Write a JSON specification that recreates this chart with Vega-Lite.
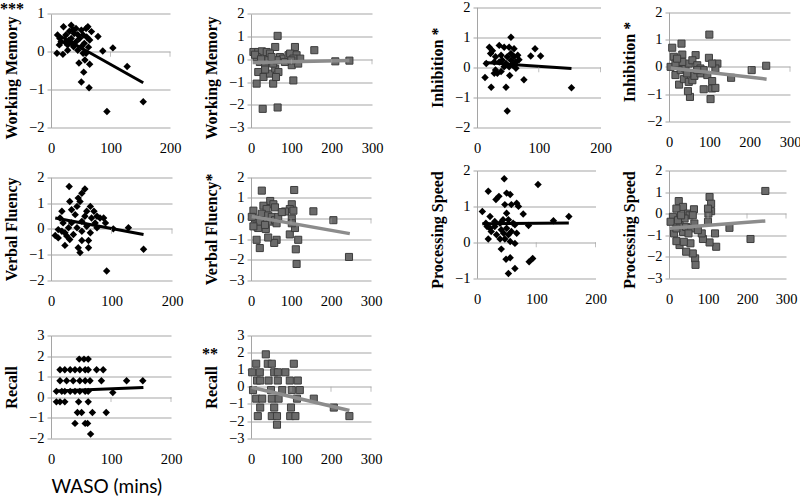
{
"$schema": "https://vega.github.io/schema/vega-lite/v6.json",
"background": "white",
"padding": {"left": 0, "top": -1.5, "right": 0, "bottom": 0},
"columns": 4, "bounds": "flush", "align": "each", "spacing": 0,
"config": {
 "view": {"stroke": null},
 "axis": {"labelFont": "Liberation Serif", "labelFontSize": 14.5, "labelColor": "#000", "titleFont": "Liberation Serif", "titleFontSize": 16, "titleFontWeight": "bold", "titleColor": "#000", "gridColor": "#a5a5a5", "domainColor": "#a5a5a5", "tickColor": "#a5a5a5", "labelOverlap": false, "labelFlush": false, "labelBound": false},
 "axisX": {"domain": false, "ticks": false, "grid": false, "labelPadding": 14, "labelFont": "Liberation Serif", "labelFontSize": 14.5},
 "axisY": {"domain": true, "ticks": true, "tickSize": 4, "grid": true, "labelPadding": 3, "titlePadding": 9, "labelFont": "Liberation Serif", "labelFontSize": 14.5}
},
"datasets": {
"pts": [
{"p":1,"x":94,"y":-1.58},{"p":1,"x":155,"y":-1.32},{"p":1,"x":128,"y":-0.39},{"p":1,"x":104,"y":0.1},{"p":1,"x":87,"y":0.02},{"p":1,"x":79,"y":0.4},{"p":1,"x":64,"y":-0.95},{"p":1,"x":51,"y":-0.8},{"p":1,"x":55,"y":-0.54},{"p":1,"x":65,"y":-0.33},{"p":1,"x":47,"y":-0.3},{"p":1,"x":57,"y":-0.22},{"p":1,"x":10,"y":-0.04},{"p":1,"x":20,"y":-0.07},{"p":1,"x":21,"y":0.66},{"p":1,"x":34,"y":0.7},{"p":1,"x":11,"y":0.44},{"p":1,"x":17,"y":0.26},{"p":1,"x":25,"y":0.44},{"p":1,"x":28,"y":0.18},{"p":1,"x":34,"y":0.35},{"p":1,"x":39,"y":0.48},{"p":1,"x":42,"y":0.26},{"p":1,"x":48,"y":0.35},{"p":1,"x":54,"y":0.44},{"p":1,"x":59,"y":0.61},{"p":1,"x":62,"y":0.66},{"p":1,"x":68,"y":0.53},{"p":1,"x":51,"y":0.13},{"p":1,"x":45,"y":0.04},{"p":1,"x":56,"y":0.22},{"p":1,"x":38,"y":0.13},{"p":1,"x":31,"y":0.54},{"p":1,"x":24,"y":0.25},{"p":1,"x":14,"y":0.18},{"p":1,"x":51,"y":0.57},{"p":1,"x":60,"y":0.39},{"p":1,"x":65,"y":0.31},{"p":1,"x":42,"y":0.61},{"p":1,"x":35,"y":0.22},{"p":1,"x":28,"y":0.04},{"p":1,"x":54,"y":-0.04},{"p":1,"x":59,"y":-0.04},{"p":1,"x":30,"y":0.3},{"p":1,"x":45,"y":0.45},{"p":1,"x":15,"y":0.35},{"p":1,"x":37,"y":0.58},{"p":1,"x":63,"y":0.12},
{"p":2,"x":157,"y":0.4},{"p":2,"x":209,"y":-0.09},{"p":2,"x":244,"y":-0.06},{"p":2,"x":66,"y":1.03},{"p":2,"x":66,"y":-2.12},{"p":2,"x":29,"y":-2.18},{"p":2,"x":14,"y":-1.07},{"p":2,"x":55,"y":-1.07},{"p":2,"x":105,"y":-0.93},{"p":2,"x":109,"y":0.54},{"p":2,"x":60,"y":0.54},{"p":2,"x":6,"y":0.32},{"p":2,"x":18,"y":0.32},{"p":2,"x":27,"y":0.35},{"p":2,"x":39,"y":0.32},{"p":2,"x":47,"y":0.25},{"p":2,"x":18,"y":-0.56},{"p":2,"x":31,"y":-0.78},{"p":2,"x":47,"y":-0.63},{"p":2,"x":60,"y":-0.41},{"p":2,"x":68,"y":-0.56},{"p":2,"x":22,"y":-0.12},{"p":2,"x":35,"y":-0.26},{"p":2,"x":43,"y":-0.04},{"p":2,"x":55,"y":-0.19},{"p":2,"x":72,"y":0.1},{"p":2,"x":80,"y":0.03},{"p":2,"x":93,"y":0.18},{"p":2,"x":97,"y":0.25},{"p":2,"x":101,"y":-0.26},{"p":2,"x":113,"y":0.18},{"p":2,"x":117,"y":-0.19},{"p":2,"x":122,"y":0.03},{"p":2,"x":64,"y":-0.04},{"p":2,"x":51,"y":0.1},{"p":2,"x":14,"y":0.1},{"p":2,"x":84,"y":-0.12},{"p":2,"x":105,"y":0.03},{"p":2,"x":62,"y":-0.78},{"p":2,"x":10,"y":0.2},{"p":2,"x":25,"y":0.0},{"p":2,"x":35,"y":-0.45},{"p":2,"x":100,"y":-0.05},
{"p":3,"x":55,"y":1.0},{"p":3,"x":49,"y":-1.45},{"p":3,"x":153,"y":-0.68},{"p":3,"x":23,"y":-0.66},{"p":3,"x":47,"y":-0.66},{"p":3,"x":13,"y":-0.34},{"p":3,"x":76,"y":-0.41},{"p":3,"x":53,"y":-0.27},{"p":3,"x":94,"y":0.62},{"p":3,"x":103,"y":0.38},{"p":3,"x":87,"y":0.38},{"p":3,"x":20,"y":0.67},{"p":3,"x":22,"y":0.46},{"p":3,"x":36,"y":0.73},{"p":3,"x":44,"y":0.67},{"p":3,"x":52,"y":0.67},{"p":3,"x":55,"y":0.46},{"p":3,"x":60,"y":0.62},{"p":3,"x":15,"y":0.13},{"p":3,"x":28,"y":0.18},{"p":3,"x":30,"y":-0.09},{"p":3,"x":33,"y":-0.2},{"p":3,"x":39,"y":-0.14},{"p":3,"x":36,"y":0.18},{"p":3,"x":41,"y":0.24},{"p":3,"x":47,"y":0.13},{"p":3,"x":49,"y":0.35},{"p":3,"x":55,"y":0.24},{"p":3,"x":58,"y":0.08},{"p":3,"x":63,"y":0.18},{"p":3,"x":66,"y":0.4},{"p":3,"x":63,"y":-0.03},{"p":3,"x":44,"y":0.02},{"p":3,"x":52,"y":0.02},{"p":3,"x":39,"y":0.4},{"p":3,"x":30,"y":0.35},{"p":3,"x":60,"y":0.35},{"p":3,"x":28,"y":-0.2},{"p":3,"x":25,"y":0.55},{"p":3,"x":68,"y":0.25},
{"p":4,"x":100,"y":1.18},{"p":4,"x":241,"y":0.04},{"p":4,"x":205,"y":-0.12},{"p":4,"x":154,"y":-0.4},{"p":4,"x":103,"y":-1.18},{"p":4,"x":52,"y":-1.1},{"p":4,"x":47,"y":-0.89},{"p":4,"x":86,"y":-0.82},{"p":4,"x":107,"y":-0.79},{"p":4,"x":115,"y":-0.77},{"p":4,"x":8,"y":0.7},{"p":4,"x":31,"y":0.85},{"p":4,"x":12,"y":0.37},{"p":4,"x":33,"y":0.45},{"p":4,"x":66,"y":0.43},{"p":4,"x":99,"y":0.33},{"p":4,"x":120,"y":0.12},{"p":4,"x":25,"y":-0.65},{"p":4,"x":16,"y":-0.3},{"p":4,"x":37,"y":-0.45},{"p":4,"x":49,"y":-0.55},{"p":4,"x":58,"y":-0.49},{"p":4,"x":63,"y":-0.33},{"p":4,"x":78,"y":-0.24},{"p":4,"x":95,"y":-0.3},{"p":4,"x":107,"y":-0.52},{"p":4,"x":115,"y":-0.06},{"p":4,"x":107,"y":0.12},{"p":4,"x":4,"y":0.0},{"p":4,"x":21,"y":0.06},{"p":4,"x":29,"y":-0.12},{"p":4,"x":41,"y":-0.06},{"p":4,"x":49,"y":0.12},{"p":4,"x":58,"y":0.24},{"p":4,"x":70,"y":0.06},{"p":4,"x":78,"y":-0.06},{"p":4,"x":86,"y":-0.12},{"p":4,"x":45,"y":-0.24},{"p":4,"x":33,"y":0.18},{"p":4,"x":16,"y":0.12},{"p":4,"x":70,"y":-0.12},{"p":4,"x":20,"y":0.3},
{"p":5,"x":30,"y":1.64},{"p":5,"x":56,"y":1.54},{"p":5,"x":51,"y":1.38},{"p":5,"x":45,"y":1.19},{"p":5,"x":48,"y":1.06},{"p":5,"x":31,"y":1.06},{"p":5,"x":43,"y":0.87},{"p":5,"x":65,"y":0.87},{"p":5,"x":71,"y":0.68},{"p":5,"x":76,"y":0.49},{"p":5,"x":87,"y":0.42},{"p":5,"x":92,"y":-1.63},{"p":5,"x":153,"y":-0.79},{"p":5,"x":128,"y":0.04},{"p":5,"x":103,"y":0.0},{"p":5,"x":90,"y":0.23},{"p":5,"x":48,"y":-0.92},{"p":5,"x":45,"y":-0.73},{"p":5,"x":62,"y":-0.73},{"p":5,"x":62,"y":-0.45},{"p":5,"x":23,"y":-0.64},{"p":5,"x":51,"y":-0.45},{"p":5,"x":7,"y":-0.26},{"p":5,"x":12,"y":-0.03},{"p":5,"x":15,"y":0.42},{"p":5,"x":18,"y":0.68},{"p":5,"x":20,"y":0.23},{"p":5,"x":23,"y":-0.15},{"p":5,"x":29,"y":0.04},{"p":5,"x":34,"y":0.23},{"p":5,"x":37,"y":-0.22},{"p":5,"x":40,"y":0.55},{"p":5,"x":43,"y":0.04},{"p":5,"x":51,"y":0.29},{"p":5,"x":56,"y":0.49},{"p":5,"x":59,"y":0.1},{"p":5,"x":65,"y":-0.15},{"p":5,"x":73,"y":0.23},{"p":5,"x":76,"y":0.04},{"p":5,"x":81,"y":0.42},{"p":5,"x":34,"y":0.74},{"p":5,"x":12,"y":-0.35},{"p":5,"x":26,"y":-0.28},{"p":5,"x":59,"y":0.68},{"p":5,"x":51,"y":-0.09},{"p":5,"x":31,"y":-0.41},{"p":5,"x":67,"y":0.42},{"p":5,"x":18,"y":-0.09},
{"p":6,"x":27,"y":1.35},{"p":6,"x":108,"y":1.38},{"p":6,"x":156,"y":0.35},{"p":6,"x":206,"y":-0.08},{"p":6,"x":245,"y":-1.86},{"p":6,"x":114,"y":-2.2},{"p":6,"x":112,"y":-1.49},{"p":6,"x":118,"y":-1.03},{"p":6,"x":22,"y":-1.43},{"p":6,"x":14,"y":-1.03},{"p":6,"x":64,"y":-1.03},{"p":6,"x":58,"y":-1.18},{"p":6,"x":43,"y":-0.92},{"p":6,"x":97,"y":-0.77},{"p":6,"x":110,"y":-0.46},{"p":6,"x":102,"y":0.69},{"p":6,"x":97,"y":0.46},{"p":6,"x":85,"y":0.34},{"p":6,"x":106,"y":0.38},{"p":6,"x":48,"y":0.85},{"p":6,"x":56,"y":0.69},{"p":6,"x":60,"y":0.54},{"p":6,"x":31,"y":0.62},{"p":6,"x":39,"y":0.46},{"p":6,"x":6,"y":0.38},{"p":6,"x":10,"y":0.0},{"p":6,"x":14,"y":-0.38},{"p":6,"x":18,"y":-0.46},{"p":6,"x":27,"y":0.23},{"p":6,"x":31,"y":-0.08},{"p":6,"x":37,"y":-0.51},{"p":6,"x":43,"y":0.15},{"p":6,"x":48,"y":-0.15},{"p":6,"x":52,"y":0.08},{"p":6,"x":60,"y":-0.08},{"p":6,"x":68,"y":0.08},{"p":6,"x":77,"y":0.31},{"p":6,"x":102,"y":0.0},{"p":6,"x":102,"y":-0.23},{"p":6,"x":22,"y":-0.15},{"p":6,"x":2,"y":0.08},{"p":6,"x":6,"y":-0.38},{"p":6,"x":35,"y":-0.31},{"p":6,"x":64,"y":-0.23},
{"p":7,"x":46,"y":1.77},{"p":7,"x":103,"y":1.61},{"p":7,"x":19,"y":1.42},{"p":7,"x":32,"y":1.19},{"p":7,"x":37,"y":1.28},{"p":7,"x":50,"y":1.37},{"p":7,"x":56,"y":1.33},{"p":7,"x":47,"y":1.05},{"p":7,"x":58,"y":1.05},{"p":7,"x":67,"y":1.09},{"p":7,"x":70,"y":1.0},{"p":7,"x":78,"y":0.79},{"p":7,"x":50,"y":0.81},{"p":7,"x":9,"y":0.86},{"p":7,"x":22,"y":0.72},{"p":7,"x":15,"y":0.53},{"p":7,"x":129,"y":0.6},{"p":7,"x":155,"y":0.72},{"p":7,"x":87,"y":0.47},{"p":7,"x":41,"y":-0.19},{"p":7,"x":49,"y":-0.47},{"p":7,"x":56,"y":-0.43},{"p":7,"x":64,"y":-0.73},{"p":7,"x":53,"y":-0.87},{"p":7,"x":88,"y":-0.54},{"p":7,"x":94,"y":-0.45},{"p":7,"x":64,"y":-0.03},{"p":7,"x":17,"y":0.44},{"p":7,"x":19,"y":0.09},{"p":7,"x":24,"y":0.3},{"p":7,"x":30,"y":0.44},{"p":7,"x":33,"y":0.21},{"p":7,"x":39,"y":0.53},{"p":7,"x":41,"y":0.35},{"p":7,"x":39,"y":0.09},{"p":7,"x":45,"y":0.25},{"p":7,"x":50,"y":0.39},{"p":7,"x":53,"y":0.21},{"p":7,"x":58,"y":0.3},{"p":7,"x":61,"y":0.53},{"p":7,"x":53,"y":0.63},{"p":7,"x":64,"y":0.49},{"p":7,"x":44,"y":0.63},{"p":7,"x":30,"y":0.58},{"p":7,"x":22,"y":0.39},{"p":7,"x":56,"y":0.02},{"p":7,"x":47,"y":0.09},{"p":7,"x":67,"y":0.25},
{"p":8,"x":247,"y":1.05},{"p":8,"x":209,"y":-1.18},{"p":8,"x":155,"y":-0.66},{"p":8,"x":104,"y":0.77},{"p":8,"x":108,"y":0.46},{"p":8,"x":108,"y":0.11},{"p":8,"x":101,"y":0.0},{"p":8,"x":100,"y":0.23},{"p":8,"x":118,"y":-0.92},{"p":8,"x":121,"y":-1.54},{"p":8,"x":104,"y":-1.34},{"p":8,"x":87,"y":-1.18},{"p":8,"x":84,"y":-0.92},{"p":8,"x":100,"y":-0.38},{"p":8,"x":67,"y":-2.08},{"p":8,"x":68,"y":-2.38},{"p":8,"x":61,"y":-1.85},{"p":8,"x":55,"y":-1.38},{"p":8,"x":44,"y":-1.77},{"p":8,"x":27,"y":-1.46},{"p":8,"x":25,"y":0.58},{"p":8,"x":36,"y":0.31},{"p":8,"x":19,"y":0.23},{"p":8,"x":49,"y":0.0},{"p":8,"x":64,"y":0.2},{"p":8,"x":53,"y":-0.08},{"p":8,"x":10,"y":-0.15},{"p":8,"x":4,"y":-0.38},{"p":8,"x":13,"y":-0.92},{"p":8,"x":19,"y":-1.28},{"p":8,"x":36,"y":-0.85},{"p":8,"x":40,"y":-0.23},{"p":8,"x":27,"y":-0.54},{"p":8,"x":44,"y":-0.62},{"p":8,"x":57,"y":-0.69},{"p":8,"x":65,"y":-0.46},{"p":8,"x":74,"y":-0.77},{"p":8,"x":23,"y":-0.31},{"p":8,"x":31,"y":-0.08},{"p":8,"x":19,"y":-0.69},{"p":8,"x":50,"y":-0.92},{"p":8,"x":61,"y":-0.08},{"p":8,"x":38,"y":-1.31},
{"p":9,"x":47,"y":1.85},{"p":9,"x":55,"y":1.85},{"p":9,"x":62,"y":1.85},
{"p":9,"x":15,"y":1.33},{"p":9,"x":23,"y":1.33},{"p":9,"x":32,"y":1.33},{"p":9,"x":40,"y":1.33},{"p":9,"x":48,"y":1.33},{"p":9,"x":57,"y":1.33},{"p":9,"x":62,"y":1.33},{"p":9,"x":76,"y":1.33},{"p":9,"x":87,"y":1.33},
{"p":9,"x":15,"y":0.8},{"p":9,"x":26,"y":0.8},{"p":9,"x":37,"y":0.8},{"p":9,"x":48,"y":0.8},{"p":9,"x":57,"y":0.8},{"p":9,"x":65,"y":0.8},{"p":9,"x":84,"y":0.8},{"p":9,"x":126,"y":0.8},{"p":9,"x":153,"y":0.8},
{"p":9,"x":9,"y":0.28},{"p":9,"x":18,"y":0.28},{"p":9,"x":23,"y":0.28},{"p":9,"x":32,"y":0.28},{"p":9,"x":40,"y":0.28},{"p":9,"x":48,"y":0.28},{"p":9,"x":57,"y":0.28},{"p":9,"x":62,"y":0.28},{"p":9,"x":103,"y":0.22},
{"p":9,"x":9,"y":-0.23},{"p":9,"x":15,"y":-0.23},{"p":9,"x":23,"y":-0.23},{"p":9,"x":46,"y":-0.23},{"p":9,"x":62,"y":-0.23},
{"p":9,"x":44,"y":-0.75},{"p":9,"x":51,"y":-0.75},{"p":9,"x":69,"y":-0.75},{"p":9,"x":92,"y":-0.75},
{"p":9,"x":40,"y":-1.28},{"p":9,"x":57,"y":-1.28},{"p":9,"x":61,"y":-1.28},{"p":9,"x":66,"y":-1.8},
{"p":10,"x":37,"y":1.9},
{"p":10,"x":13,"y":1.35},{"p":10,"x":42,"y":1.35},{"p":10,"x":52,"y":1.35},{"p":10,"x":107,"y":1.35},
{"p":10,"x":3,"y":0.85},{"p":10,"x":22,"y":0.85},{"p":10,"x":58,"y":0.85},{"p":10,"x":67,"y":0.85},{"p":10,"x":86,"y":0.85},
{"p":10,"x":15,"y":0.37},{"p":10,"x":23,"y":0.37},{"p":10,"x":44,"y":0.37},{"p":10,"x":67,"y":0.37},{"p":10,"x":97,"y":0.37},{"p":10,"x":117,"y":0.37},
{"p":10,"x":5,"y":-0.19},{"p":10,"x":50,"y":-0.19},{"p":10,"x":78,"y":-0.19},{"p":10,"x":102,"y":-0.19},{"p":10,"x":122,"y":-0.19},
{"p":10,"x":13,"y":-0.69},{"p":10,"x":28,"y":-0.69},{"p":10,"x":52,"y":-0.69},{"p":10,"x":69,"y":-0.69},{"p":10,"x":115,"y":-0.69},{"p":10,"x":157,"y":-0.69},
{"p":10,"x":23,"y":-1.21},{"p":10,"x":58,"y":-1.21},{"p":10,"x":100,"y":-1.21},{"p":10,"x":207,"y":-1.21},
{"p":10,"x":17,"y":-1.71},{"p":10,"x":52,"y":-1.71},{"p":10,"x":65,"y":-1.71},{"p":10,"x":98,"y":-1.71},{"p":10,"x":111,"y":-1.71},{"p":10,"x":246,"y":-1.71},
{"p":10,"x":65,"y":-2.21}
],
"fit": [
{"p":1,"x":10,"y":0.46},{"p":1,"x":155,"y":-0.82},
{"p":2,"x":4,"y":-0.14},{"p":2,"x":244,"y":-0.05},
{"p":3,"x":12,"y":0.16},{"p":3,"x":153,"y":-0.04},
{"p":4,"x":4,"y":-0.04},{"p":4,"x":242,"y":-0.45},
{"p":5,"x":7,"y":0.42},{"p":5,"x":153,"y":-0.22},
{"p":6,"x":2,"y":0.1},{"p":6,"x":247,"y":-0.73},
{"p":7,"x":9,"y":0.52},{"p":7,"x":155,"y":0.54},
{"p":8,"x":2,"y":-0.68},{"p":8,"x":247,"y":-0.34},
{"p":9,"x":9,"y":0.3},{"p":9,"x":154,"y":0.47},
{"p":10,"x":2,"y":-0.03},{"p":10,"x":246,"y":-1.38}
],
"xt": [
{"p":1,"x":100,"y":0},{"p":1,"x":200,"y":0},
{"p":2,"x":100,"y":0},{"p":2,"x":200,"y":0},{"p":2,"x":300,"y":0},
{"p":3,"x":100,"y":0},{"p":3,"x":200,"y":0},
{"p":4,"x":100,"y":0},{"p":4,"x":200,"y":0},{"p":4,"x":300,"y":0},
{"p":5,"x":100,"y":0},{"p":5,"x":200,"y":0},
{"p":6,"x":100,"y":0},{"p":6,"x":200,"y":0},{"p":6,"x":300,"y":0},
{"p":7,"x":100,"y":0},{"p":7,"x":200,"y":0},
{"p":8,"x":100,"y":0},{"p":8,"x":200,"y":0},{"p":8,"x":300,"y":0},
{"p":9,"x":100,"y":0},{"p":9,"x":200,"y":0},
{"p":10,"x":100,"y":0},{"p":10,"x":200,"y":0},{"p":10,"x":300,"y":0}
]
},
"concat": [
{
 "width": 200, "height": 126,
 "title": {"text": "***", "anchor": "start", "frame": "group", "orient": "top", "offset": 0, "dx": -51, "dy": 28, "baseline": "alphabetic", "font": "Liberation Serif", "fontSize": 16, "fontWeight": "bold", "color": "#000"},
 "encoding": {
  "x": {"field": "x", "type": "quantitative", "scale": {"domain": [0, 200], "range": [0, 119], "nice": false, "zero": false}, "axis": {"values": [0, 100, 200], "title": null}},
  "y": {"field": "y", "type": "quantitative", "scale": {"domain": [-2, 1], "range": [126, 12.3], "nice": false, "zero": false}, "axis": {"values": [-2, -1, 0, 1], "title": "Working Memory", "titleY": 76}}
 },
 "layer": [
  {"data": {"name": "pts"}, "transform": [{"filter": "datum.p == 1"}], "mark": {"type": "point", "shape": "diamond", "filled": true, "color": "#000", "size": 55, "opacity": 1}},
  {"data": {"name": "fit"}, "transform": [{"filter": "datum.p == 1"}], "mark": {"type": "line", "color": "#000", "strokeWidth": 3}},
  {"data": {"name": "xt"}, "transform": [{"filter": "datum.p == 1"}], "mark": {"type": "tick", "orient": "vertical", "size": 5, "thickness": 1, "color": "#a5a5a5", "yOffset": 2.5}}
 ]
},
{
 "width": 225.5, "height": 126,
 "encoding": {
  "x": {"field": "x", "type": "quantitative", "scale": {"domain": [0, 300], "range": [0, 121], "nice": false, "zero": false}, "axis": {"values": [0, 100, 200, 300], "title": null}},
  "y": {"field": "y", "type": "quantitative", "scale": {"domain": [-3, 2], "range": [126, 12.3], "nice": false, "zero": false}, "axis": {"values": [-3, -2, -1, 0, 1, 2], "title": "Working Memory", "titleY": 76}}
 },
 "layer": [
  {"data": {"name": "pts"}, "transform": [{"filter": "datum.p == 2"}], "mark": {"type": "point", "shape": "square", "filled": true, "fill": "#6b6b6b", "stroke": "#3c3c3c", "strokeWidth": 1, "size": 50, "opacity": 1}},
  {"data": {"name": "fit"}, "transform": [{"filter": "datum.p == 2"}], "mark": {"type": "line", "color": "#8c8c8c", "strokeWidth": 3.5}},
  {"data": {"name": "xt"}, "transform": [{"filter": "datum.p == 2"}], "mark": {"type": "tick", "orient": "vertical", "size": 5, "thickness": 1, "color": "#a5a5a5", "yOffset": 2.5}}
 ]
},
{
 "width": 191.5, "height": 126,
 "encoding": {
  "x": {"field": "x", "type": "quantitative", "scale": {"domain": [0, 200], "range": [0, 123.5], "nice": false, "zero": false}, "axis": {"values": [0, 100, 200], "title": null}},
  "y": {"field": "y", "type": "quantitative", "scale": {"domain": [-2, 2], "range": [126, 5.7], "nice": false, "zero": false}, "axis": {"values": [-2, -1, 0, 1, 2], "title": "Inhibition *"}}
 },
 "layer": [
  {"data": {"name": "pts"}, "transform": [{"filter": "datum.p == 3"}], "mark": {"type": "point", "shape": "diamond", "filled": true, "color": "#000", "size": 55, "opacity": 1}},
  {"data": {"name": "fit"}, "transform": [{"filter": "datum.p == 3"}], "mark": {"type": "line", "color": "#000", "strokeWidth": 3}},
  {"data": {"name": "xt"}, "transform": [{"filter": "datum.p == 3"}], "mark": {"type": "tick", "orient": "vertical", "size": 5, "thickness": 1, "color": "#a5a5a5", "yOffset": 2.5}}
 ]
},
{
 "width": 125, "height": 120,
 "encoding": {
  "x": {"field": "x", "type": "quantitative", "scale": {"domain": [0, 300], "range": [0, 121], "nice": false, "zero": false}, "axis": {"values": [0, 100, 200, 300], "title": null}},
  "y": {"field": "y", "type": "quantitative", "scale": {"domain": [-2, 2], "range": [120, 10.7], "nice": false, "zero": false}, "axis": {"values": [-2, -1, 0, 1, 2], "title": "Inhibition *", "titleY": 60}}
 },
 "layer": [
  {"data": {"name": "pts"}, "transform": [{"filter": "datum.p == 4"}], "mark": {"type": "point", "shape": "square", "filled": true, "fill": "#6b6b6b", "stroke": "#3c3c3c", "strokeWidth": 1, "size": 50, "opacity": 1}},
  {"data": {"name": "fit"}, "transform": [{"filter": "datum.p == 4"}], "mark": {"type": "line", "color": "#8c8c8c", "strokeWidth": 3.5}},
  {"data": {"name": "xt"}, "transform": [{"filter": "datum.p == 4"}], "mark": {"type": "tick", "orient": "vertical", "size": 5, "thickness": 1, "color": "#a5a5a5", "yOffset": 2.5}}
 ]
},
{
 "width": 200, "height": 153,
 "encoding": {
  "x": {"field": "x", "type": "quantitative", "scale": {"domain": [0, 200], "range": [0, 121], "nice": false, "zero": false}, "axis": {"values": [0, 100, 200], "title": null}},
  "y": {"field": "y", "type": "quantitative", "scale": {"domain": [-2, 2], "range": [153, 49.7], "nice": false, "zero": false}, "axis": {"values": [-2, -1, 0, 1, 2], "title": "Verbal Fluency"}}
 },
 "layer": [
  {"data": {"name": "pts"}, "transform": [{"filter": "datum.p == 5"}], "mark": {"type": "point", "shape": "diamond", "filled": true, "color": "#000", "size": 55, "opacity": 1}},
  {"data": {"name": "fit"}, "transform": [{"filter": "datum.p == 5"}], "mark": {"type": "line", "color": "#000", "strokeWidth": 3}},
  {"data": {"name": "xt"}, "transform": [{"filter": "datum.p == 5"}], "mark": {"type": "tick", "orient": "vertical", "size": 5, "thickness": 1, "color": "#a5a5a5", "yOffset": 2.5}}
 ]
},
{
 "width": 225.5, "height": 153,
 "encoding": {
  "x": {"field": "x", "type": "quantitative", "scale": {"domain": [0, 300], "range": [0, 120], "nice": false, "zero": false}, "axis": {"values": [0, 100, 200, 300], "title": null}},
  "y": {"field": "y", "type": "quantitative", "scale": {"domain": [-3, 2], "range": [153, 49.7], "nice": false, "zero": false}, "axis": {"values": [-3, -2, -1, 0, 1, 2], "title": "Verbal Fluency*"}}
 },
 "layer": [
  {"data": {"name": "pts"}, "transform": [{"filter": "datum.p == 6"}], "mark": {"type": "point", "shape": "square", "filled": true, "fill": "#6b6b6b", "stroke": "#3c3c3c", "strokeWidth": 1, "size": 50, "opacity": 1}},
  {"data": {"name": "fit"}, "transform": [{"filter": "datum.p == 6"}], "mark": {"type": "line", "color": "#8c8c8c", "strokeWidth": 3.5}},
  {"data": {"name": "xt"}, "transform": [{"filter": "datum.p == 6"}], "mark": {"type": "tick", "orient": "vertical", "size": 5, "thickness": 1, "color": "#a5a5a5", "yOffset": 2.5}}
 ]
},
{
 "width": 191.5, "height": 150.7,
 "encoding": {
  "x": {"field": "x", "type": "quantitative", "scale": {"domain": [0, 200], "range": [0, 118.5], "nice": false, "zero": false}, "axis": {"values": [0, 100, 200], "title": null}},
  "y": {"field": "y", "type": "quantitative", "scale": {"domain": [-1, 2], "range": [150.7, 43], "nice": false, "zero": false}, "axis": {"values": [-1, 0, 1, 2], "title": "Processing Speed", "titleY": 102}}
 },
 "layer": [
  {"data": {"name": "pts"}, "transform": [{"filter": "datum.p == 7"}], "mark": {"type": "point", "shape": "diamond", "filled": true, "color": "#000", "size": 55, "opacity": 1}},
  {"data": {"name": "fit"}, "transform": [{"filter": "datum.p == 7"}], "mark": {"type": "line", "color": "#000", "strokeWidth": 3}},
  {"data": {"name": "xt"}, "transform": [{"filter": "datum.p == 7"}], "mark": {"type": "tick", "orient": "vertical", "size": 5, "thickness": 1, "color": "#a5a5a5", "yOffset": 2.5}}
 ]
},
{
 "width": 125, "height": 150.7,
 "encoding": {
  "x": {"field": "x", "type": "quantitative", "scale": {"domain": [0, 300], "range": [0, 117], "nice": false, "zero": false}, "axis": {"values": [0, 100, 200, 300], "title": null}},
  "y": {"field": "y", "type": "quantitative", "scale": {"domain": [-3, 2], "range": [150.7, 43], "nice": false, "zero": false}, "axis": {"values": [-3, -2, -1, 0, 1, 2], "title": "Processing Speed", "titleY": 102}}
 },
 "layer": [
  {"data": {"name": "pts"}, "transform": [{"filter": "datum.p == 8"}], "mark": {"type": "point", "shape": "square", "filled": true, "fill": "#6b6b6b", "stroke": "#3c3c3c", "strokeWidth": 1, "size": 50, "opacity": 1}},
  {"data": {"name": "fit"}, "transform": [{"filter": "datum.p == 8"}], "mark": {"type": "line", "color": "#8c8c8c", "strokeWidth": 3.5}},
  {"data": {"name": "xt"}, "transform": [{"filter": "datum.p == 8"}], "mark": {"type": "tick", "orient": "vertical", "size": 5, "thickness": 1, "color": "#a5a5a5", "yOffset": 2.5}}
 ]
},
{
 "width": 200, "height": 157.7,
 "encoding": {
  "x": {"field": "x", "type": "quantitative", "scale": {"domain": [0, 200], "range": [0, 120], "nice": false, "zero": false}, "axis": {"values": [0, 100, 200], "title": "WASO (mins)", "titleFont": "Lato", "titleFontWeight": "normal", "titleFontSize": 19, "titleAnchor": "start", "titlePadding": 12}},
  "y": {"field": "y", "type": "quantitative", "scale": {"domain": [-2, 3], "range": [157.7, 55], "nice": false, "zero": false}, "axis": {"values": [-2, -1, 0, 1, 2, 3], "title": "Recall"}}
 },
 "layer": [
  {"data": {"name": "pts"}, "transform": [{"filter": "datum.p == 9"}], "mark": {"type": "point", "shape": "diamond", "filled": true, "color": "#000", "size": 55, "opacity": 1}},
  {"data": {"name": "fit"}, "transform": [{"filter": "datum.p == 9"}], "mark": {"type": "line", "color": "#000", "strokeWidth": 3}},
  {"data": {"name": "xt"}, "transform": [{"filter": "datum.p == 9"}], "mark": {"type": "tick", "orient": "vertical", "size": 5, "thickness": 1, "color": "#a5a5a5", "yOffset": 2.5}}
 ]
},
{
 "width": 225.5, "height": 157.7,
 "title": {"text": "**", "anchor": "start", "frame": "group", "orient": "top", "offset": 0, "dx": -49, "dy": 94, "baseline": "alphabetic", "font": "Liberation Serif", "fontSize": 16, "fontWeight": "bold", "color": "#000"},
 "encoding": {
  "x": {"field": "x", "type": "quantitative", "scale": {"domain": [0, 300], "range": [0, 120], "nice": false, "zero": false}, "axis": {"values": [0, 100, 200, 300], "title": null}},
  "y": {"field": "y", "type": "quantitative", "scale": {"domain": [-3, 3], "range": [157.7, 55], "nice": false, "zero": false}, "axis": {"values": [-3, -2, -1, 0, 1, 2, 3], "title": "Recall"}}
 },
 "layer": [
  {"data": {"name": "pts"}, "transform": [{"filter": "datum.p == 10"}], "mark": {"type": "point", "shape": "square", "filled": true, "fill": "#6b6b6b", "stroke": "#3c3c3c", "strokeWidth": 1, "size": 50, "opacity": 1}},
  {"data": {"name": "fit"}, "transform": [{"filter": "datum.p == 10"}], "mark": {"type": "line", "color": "#8c8c8c", "strokeWidth": 3.5}},
  {"data": {"name": "xt"}, "transform": [{"filter": "datum.p == 10"}], "mark": {"type": "tick", "orient": "vertical", "size": 5, "thickness": 1, "color": "#a5a5a5", "yOffset": 2.5}}
 ]
}
]
}
